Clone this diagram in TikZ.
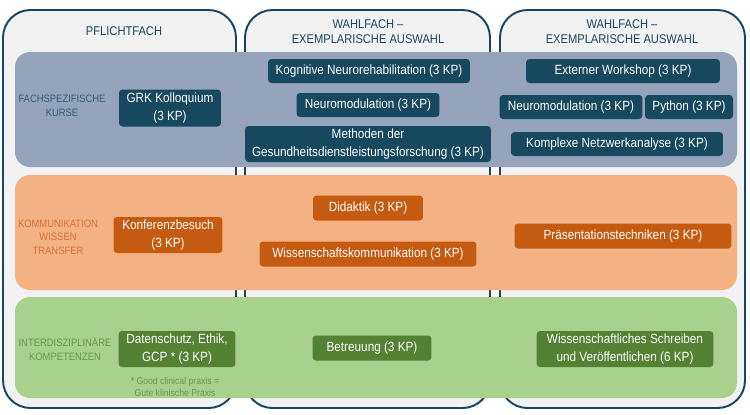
\documentclass[tikz,border=0pt]{standalone}
\usepackage{fontspec}
\setmainfont{Liberation Sans}[FakeStretch=0.88]
\usetikzlibrary{positioning}

\definecolor{rahmen}{RGB}{24,70,96}
\definecolor{spaltengrau}{RGB}{242,242,242}
\definecolor{blauband}{RGB}{150,164,187}
\definecolor{blaukasten}{RGB}{22,72,96}
\definecolor{blautext}{RGB}{52,92,120}
\definecolor{orangeband}{RGB}{244,177,131}
\definecolor{orangekasten}{RGB}{197,90,17}
\definecolor{orangetext}{RGB}{214,116,58}
\definecolor{gruenband}{RGB}{169,209,142}
\definecolor{gruenkasten}{RGB}{84,130,53}
\definecolor{gruentext}{RGB}{104,150,80}

\tikzset{
    spalte/.style={draw=rahmen, line width=1.1pt, fill=spaltengrau, rounded corners=0.55cm},
    band/.style={rounded corners=0.3cm},
    kurs/.style={rounded corners=2pt, text=white, align=center, inner sep=1pt,
      font=\fontsize{7.6}{9.8}\selectfont},
    blaukurs/.style={kurs, fill=blaukasten},
    orangekurs/.style={kurs, fill=orangekasten},
    gruenkurs/.style={kurs, fill=gruenkasten},
    kopf/.style={text=rahmen, align=center, font=\fontsize{7.2}{8.5}\selectfont},
    bandname/.style={align=center, font=\fontsize{6.1}{7.7}\selectfont},
  }

\begin{document}
\begin{tikzpicture}[x=0.02cm, y=-0.02cm]
    \useasboundingbox (0,0) rectangle (750,414);

    %% Spalten
    \draw[spalte] (3,10) rectangle (236,408);
    \draw[spalte] (245,10) rectangle (490,408);
    \draw[spalte] (500,10) rectangle (745,408);

    \node[kopf] (pflicht) at (124,31) {PFLICHTFACH};
    \node[kopf] (wahl1) at (368,32) {WAHLFACH --\\EXEMPLARISCHE AUSWAHL};
    \node[kopf] (wahl2) at (622,32) {WAHLFACH --\\EXEMPLARISCHE AUSWAHL};

    %% Baender
    \fill[band, blauband] (15,52) rectangle (737,167);
    \fill[band, orangeband] (15,175) rectangle (737,290);
    \fill[band, gruenband] (15,297) rectangle (737,398);

    %% Fachspezifische Kurse
    \node[bandname, text=blautext] (fach) at (62,106) {FACHSPEZIFISCHE\\KURSE};
    \node[blaukurs, minimum width=2.04cm, minimum height=0.74cm] (grk) at (170,108) {GRK Kolloquium\\(3 KP)};
    \node[blaukurs, minimum width=4.04cm, minimum height=0.48cm] (kogn) at (369,71) {Kognitive Neurorehabilitation (3 KP)};
    \node[blaukurs, minimum width=2.86cm, minimum height=0.48cm] (neuroa) at (368,105) {Neuromodulation (3 KP)};
    \node[blaukurs, minimum width=4.92cm, minimum height=0.72cm] (meth) at (368,144) {Methoden der\\Gesundheitsdienstleistungsforschung (3 KP)};
    \node[blaukurs, minimum width=3.88cm, minimum height=0.48cm] (extern) at (623,71) {Externer Workshop (3 KP)};
    \node[blaukurs, minimum width=2.86cm, minimum height=0.48cm] (neurob) at (571,107) {Neuromodulation (3 KP)};
    \node[blaukurs, minimum width=1.76cm, minimum height=0.48cm] (python) at (689,107) {Python (3 KP)};
    \node[blaukurs, minimum width=4.24cm, minimum height=0.48cm] (netz) at (617,144) {Komplexe Netzwerkanalyse (3 KP)};

    %% Kommunikation
    \node[bandname, text=orangetext] (komm) at (58,237) {KOMMUNIKATION\\WISSEN\\TRANSFER};
    \node[orangekurs, minimum width=2.18cm, minimum height=0.72cm] (konf) at (168,235) {Konferenzbesuch\\(3 KP)};
    \node[orangekurs, minimum width=2.2cm, minimum height=0.5cm] (didakt) at (368,208) {Didaktik (3 KP)};
    \node[orangekurs, minimum width=4.34cm, minimum height=0.5cm] (wiko) at (368,254) {Wissenschaftskommunikation (3 KP)};
    \node[orangekurs, minimum width=4.34cm, minimum height=0.5cm] (praes) at (623,236) {Präsentationstechniken (3 KP)};

    %% Interdisziplinaer
    \node[bandname, text=gruentext] (inter) at (65,349) {INTERDISZIPLINÄRE\\KOMPETENZEN};
    \node[gruenkurs, minimum width=2.34cm, minimum height=0.72cm] (daten) at (177,349) {Datenschutz, Ethik,\\GCP * (3 KP)};
    \node[gruenkurs, minimum width=2.38cm, minimum height=0.5cm] (betr) at (372,348) {Betreuung (3 KP)};
    \node[gruenkurs, minimum width=3.54cm, minimum height=0.72cm] (schreib) at (625,349) {Wissenschaftliches Schreiben\\und Veröffentlichen (6 KP)};
    \node[text=gruentext, align=center, font=\fontsize{5.6}{7.3}\selectfont] (gcp) at (175,387) {* Good clinical praxis =\\Gute klinische Praxis};
  \end{tikzpicture}
\end{document}
